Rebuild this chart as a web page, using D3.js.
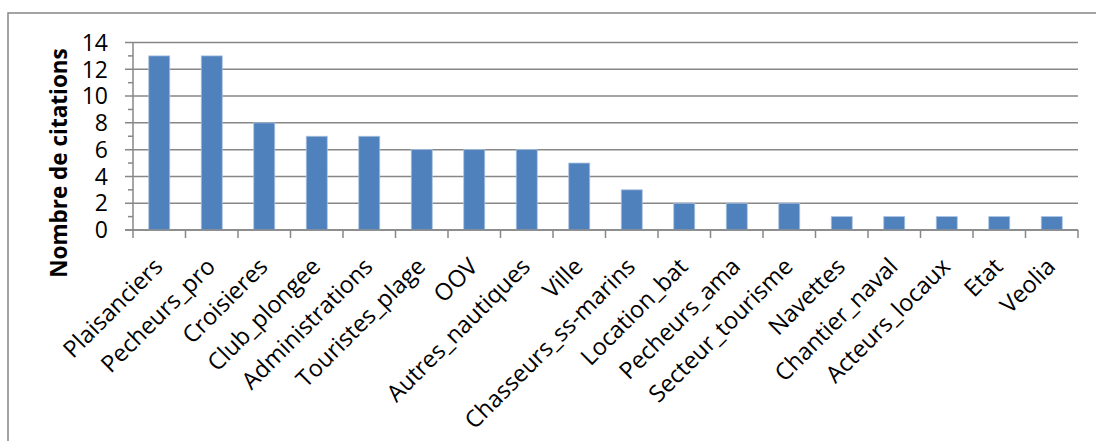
<!DOCTYPE html>
<html>
<head>
<meta charset="utf-8">
<script src="https://cdn.jsdelivr.net/npm/d3@7"></script>
<style>
  html, body { margin: 0; padding: 0; background: #fff; }
  svg { display: block; }
  text { font-family: "Open Sans", "Noto Sans", sans-serif; fill: #000; }
</style>
</head>
<body>
<svg id="chart" width="1096" height="441"></svg>
<script>
// Acteurs cités et nombre de citations
const categories = [
  "Plaisanciers", "Pecheurs_pro", "Croisieres", "Club_plongee", "Administrations",
  "Touristes_plage", "OOV", "Autres_nautiques", "Ville", "Chasseurs_ss-marins",
  "Location_bat", "Pecheurs_ama", "Secteur_tourisme", "Navettes", "Chantier_naval",
  "Acteurs_locaux", "Etat", "Veolia"
];
const citations = [13, 13, 8, 7, 7, 6, 6, 6, 5, 3, 2, 2, 2, 1, 1, 1, 1, 1];
const yTicks = [0, 2, 4, 6, 8, 10, 12, 14];
const yMinorTicks = [1, 3, 5, 7, 9, 11, 13];
const yTitle = "Nombre de citations";

const svg = d3.select("#chart");
const grey = "#878787";
const barColor = "#4F81BD";

const plot = { left: 133, right: 1078, top: 42.5, bottom: 230 };

// outer chart frame
svg.append("rect")
  .attr("x", 8).attr("y", 13)
  .attr("width", 1200).attr("height", 600)
  .attr("fill", "none").attr("stroke", grey).attr("stroke-width", 1.5);

const x = d3.scaleBand()
  .domain(categories)
  .range([plot.left, plot.right])
  .paddingInner(0).paddingOuter(0);

const y = d3.scaleLinear()
  .domain([0, 14])
  .range([plot.bottom, plot.top]);

// horizontal gridlines (major ticks extend left of the axis)
svg.append("g")
  .selectAll("line")
  .data(yTicks)
  .join("line")
  .attr("x1", plot.left - 8).attr("x2", plot.right)
  .attr("y1", d => y(d)).attr("y2", d => y(d))
  .attr("stroke", grey).attr("stroke-width", 1.5);

// minor ticks on the value axis
svg.append("g")
  .selectAll("line")
  .data(yMinorTicks)
  .join("line")
  .attr("x1", plot.left - 5).attr("x2", plot.left)
  .attr("y1", d => y(d)).attr("y2", d => y(d))
  .attr("stroke", grey).attr("stroke-width", 1.5);

// value axis line
svg.append("line")
  .attr("x1", plot.left).attr("x2", plot.left)
  .attr("y1", y(14)).attr("y2", y(0))
  .attr("stroke", grey).attr("stroke-width", 1.5);

// category boundary ticks
const bounds = categories.map(c => x(c)).concat([plot.right]);
svg.append("g")
  .selectAll("line")
  .data(bounds)
  .join("line")
  .attr("x1", d => d).attr("x2", d => d)
  .attr("y1", y(0)).attr("y2", y(0) + 8)
  .attr("stroke", grey).attr("stroke-width", 1.5);

// bars
const barW = x.bandwidth() * 0.4;
svg.append("g")
  .selectAll("rect")
  .data(categories.map((c, i) => ({ c, v: citations[i] })))
  .join("rect")
  .attr("x", d => x(d.c) + (x.bandwidth() - barW) / 2)
  .attr("width", barW)
  .attr("y", d => y(d.v))
  .attr("height", d => y(0) - y(d.v))
  .attr("fill", barColor)
  .attr("stroke", "#a9c0e0").attr("stroke-width", 0.8);

// redraw the baseline over the bars
svg.append("line")
  .attr("x1", plot.left - 8).attr("x2", plot.right)
  .attr("y1", y(0)).attr("y2", y(0))
  .attr("stroke", grey).attr("stroke-width", 1.5);

// value tick labels
svg.append("g")
  .selectAll("text")
  .data(yTicks)
  .join("text")
  .attr("x", 108)
  .attr("y", d => y(d))
  .attr("dy", "0.36em")
  .attr("text-anchor", "end")
  .attr("font-size", 23)
  .text(d => d);

// category labels, rotated
svg.append("g")
  .selectAll("text")
  .data(categories)
  .join("text")
  .attr("text-anchor", "end")
  .attr("font-size", 23.5)
  .attr("transform", d => `translate(${x(d) + x.bandwidth() / 2 + 5},${y(0) + 38}) rotate(-45)`)
  .text(d => d);

// axis title
svg.append("text")
  .attr("transform", `translate(67,163) rotate(-90)`)
  .attr("text-anchor", "middle")
  .attr("font-size", 22.5)
  .attr("font-weight", "bold")
  .text(yTitle);
</script>
</body>
</html>
